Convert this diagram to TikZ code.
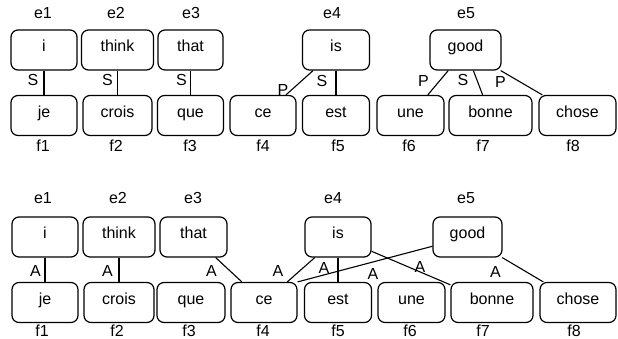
\documentclass[tikz,border=0pt]{standalone}
\usepackage{fontspec}
\setmainfont{Liberation Sans}
\begin{document}
\begin{tikzpicture}[x=1pt,y=-1pt,
  wbox/.style={draw, line width=1.2pt, rounded corners=7pt, minimum height=40pt,
    inner sep=0pt, text height=10pt, text depth=6.6pt, font=\fontsize{16}{19}\selectfont},
  tag/.style={anchor=base, inner sep=0pt, font=\fontsize{16}{19}\selectfont},
  link/.style={line width=1.1pt}]
\useasboundingbox (0,0) rectangle (618,339);
% ---------- top alignment ----------
\node[wbox, minimum width=66pt] (i)     at (44,50) {i};
\node[wbox, minimum width=72pt] (think) at (117.5,50) {think};
\node[wbox, minimum width=65pt] (that)  at (190.5,50) {that};
\node[wbox, minimum width=67pt] (is)    at (336,50) {is};
\node[wbox, minimum width=71pt] (good)  at (465.5,50) {good};
\node[wbox, minimum width=66pt] (je)    at (44,115.5) {je};
\node[wbox, minimum width=69pt] (crois) at (117.5,115.5) {crois};
\node[wbox, minimum width=66pt] (que)   at (190.5,115.5) {que};
\node[wbox, minimum width=66pt] (ce)    at (263,115.5) {ce};
\node[wbox, minimum width=67pt] (est)   at (336,115.5) {est};
\node[wbox, minimum width=67pt] (une)   at (410.5,115.5) {une};
\node[wbox, minimum width=83pt] (bonne) at (490.5,115.5) {bonne};
\node[wbox, minimum width=77pt] (chose) at (577.5,115.5) {chose};
\node[tag] (le1) at (43,19) {e1};
\node[tag] (le2) at (116,19) {e2};
\node[tag] (le3) at (191,19) {e3};
\node[tag] (le4) at (332,19) {e4};
\node[tag] (le5) at (466,19) {e5};
\node[tag] (lf1) at (43,152) {f1};
\node[tag] (lf2) at (116,152) {f2};
\node[tag] (lf3) at (190,152) {f3};
\node[tag] (lf4) at (263,152) {f4};
\node[tag] (lf5) at (338,152) {f5};
\node[tag] (lf6) at (409,152) {f6};
\node[tag] (lf7) at (483,152) {f7};
\node[tag] (lf8) at (573,152) {f8};
\draw[link] (i) -- (je);
\draw[link] (think) -- (crois);
\draw[link] (that) -- (que);
\draw[link] (is) -- (ce);
\draw[link] (is) -- (est);
\draw[link] (good) -- (une);
\draw[link] (good) -- (bonne);
\draw[link] (good) -- (chose);
\node[tag] (s1) at (33,86) {S};
\node[tag] (s2) at (107.5,86) {S};
\node[tag] (s3) at (181.5,86) {S};
\node[tag] (p4) at (283,96) {P};
\node[tag] (s5) at (322,87) {S};
\node[tag] (p6) at (423.5,87) {P};
\node[tag] (s7) at (463,86) {S};
\node[tag] (p8) at (500.5,88) {P};
% ---------- bottom alignment ----------
\node[wbox, minimum width=66pt] (i2)     at (45,237) {i};
\node[wbox, minimum width=72pt] (think2) at (119,237) {think};
\node[wbox, minimum width=67pt] (that2)  at (193.5,237) {that};
\node[wbox, minimum width=66pt] (is2)    at (338,237) {is};
\node[wbox, minimum width=69pt] (good2)  at (467.5,237) {good};
\node[wbox, minimum width=66pt] (je2)    at (45,302.5) {je};
\node[wbox, minimum width=70pt] (crois2) at (119,302.5) {crois};
\node[wbox, minimum width=68pt] (que2)   at (191,302.5) {que};
\node[wbox, minimum width=66pt] (ce2)    at (264,302.5) {ce};
\node[wbox, minimum width=67pt] (est2)   at (338,302.5) {est};
\node[wbox, minimum width=67pt] (une2)   at (411.5,302.5) {une};
\node[wbox, minimum width=82pt] (bonne2) at (492,302.5) {bonne};
\node[wbox, minimum width=76pt] (chose2) at (578,302.5) {chose};
\node[tag] (me1) at (43,204) {e1};
\node[tag] (me2) at (118,204) {e2};
\node[tag] (me3) at (193,204) {e3};
\node[tag] (me4) at (333,204) {e4};
\node[tag] (me5) at (466,204) {e5};
\node[tag] (mf1) at (42,336) {f1};
\node[tag] (mf2) at (117,336) {f2};
\node[tag] (mf3) at (189,336) {f3};
\node[tag] (mf4) at (263,336) {f4};
\node[tag] (mf5) at (338,336) {f5};
\node[tag] (mf6) at (410,336) {f6};
\node[tag] (mf7) at (483,336) {f7};
\node[tag] (mf8) at (574,336) {f8};
\draw[link] (i2) -- (je2);
\draw[link] (think2) -- (crois2);
\draw[link] (that2) -- (ce2);
\draw[link] (is2) -- (ce2);
\draw[link] (ce2.north east) -- (good2);
\draw[link] (is2) -- (est2);
\draw[link] (is2) -- (bonne2);
\draw[link] (good2) -- (chose2);
\node[tag] (a1) at (35.5,276) {A};
\node[tag] (a2) at (107.5,276) {A};
\node[tag] (a3) at (211.5,276) {A};
\node[tag] (a4) at (278,276) {A};
\node[tag] (a5) at (324,273) {A};
\node[tag] (a6) at (373,279) {A};
\node[tag] (a7) at (420,272) {A};
\node[tag] (a8) at (495.5,277) {A};
\end{tikzpicture}
\end{document}
